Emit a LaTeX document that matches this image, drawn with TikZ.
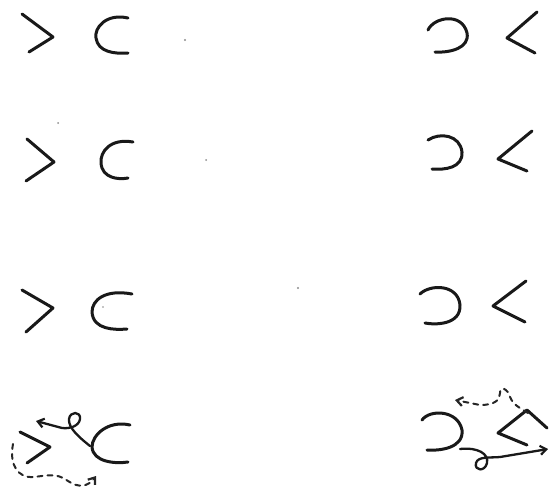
\documentclass[tikz,border=0pt]{standalone}
\usetikzlibrary{arrows.meta}
\begin{document}
\begin{tikzpicture}[x=1pt,y=-1pt,
  stroke/.style={line width=3pt,line cap=round,line join=round,black!90},
  thinstroke/.style={line width=2.3pt,line cap=round,line join=round,black!90},
  dashstroke/.style={line width=2pt,line cap=round,black!85,dash pattern=on 5pt off 5pt},
  tip/.style={-{Straight Barb[length=6pt,width=9pt,line width=2.2pt]}},
  speck/.style={fill=black!45,draw=none}]
\useasboundingbox (0,0) rectangle (557,495);
% row 1
\draw[stroke] (22,14) -- (53,37) -- (29,52);
\draw[stroke] (128,18) .. controls (106,13) and (94,28) .. (96,38) .. controls (98,52) and (114,54) .. (128,53);
\draw[stroke] (428,30) .. controls (434,17) and (462,12) .. (467,33) .. controls (470,48) and (450,53) .. (435,52);
\draw[stroke] (537,12) -- (507,38) -- (535,53);
% row 2
\draw[stroke] (27,139) -- (54,162) -- (26,181);
\draw[stroke] (133,142) .. controls (110,138) and (100,152) .. (101,163) .. controls (102,178) and (118,180) .. (128,178);
\draw[stroke] (428,140) .. controls (440,132) and (460,135) .. (462,152) .. controls (463,168) and (445,170) .. (432,169);
\draw[stroke] (532,131) -- (498,159) -- (527,171);
% row 3
\draw[stroke] (22,290) -- (53,308) -- (26,332);
\draw[stroke] (132,294) .. controls (105,289) and (92,300) .. (92,312) .. controls (93,330) and (115,330) .. (127,329);
\draw[stroke] (420,294) .. controls (430,284) and (458,284) .. (460,305) .. controls (461,325) and (435,325) .. (425,323);
\draw[stroke] (526,281) -- (493,306) -- (525,322);
% row 4 left
\draw[stroke] (20,432) -- (50,447) -- (27,463);
\draw[stroke] (130,425) .. controls (108,420) and (92,435) .. (92,447) .. controls (93,462) and (115,464) .. (128,462);
\draw[thinstroke,tip] (90,446) .. controls (80,438) and (68,428) .. (69,419) .. controls (70,411) and (81,411) .. (80,419) .. controls (79,426) and (70,429) .. (62,428) -- (36,421);
\draw[dashstroke,tip] (13,444) .. controls (9,465) and (18,478) .. (33,477) .. controls (46,476) and (56,472) .. (68,481) .. controls (78,488) and (88,487) .. (96,476);
% row 4 right
\draw[stroke] (422,420) .. controls (430,409) and (458,410) .. (462,430) .. controls (464,448) and (440,451) .. (427,450);
\draw[stroke] (547,428) -- (527,410) -- (498,433) -- (527,445);
\draw[thinstroke,tip] (460,449) .. controls (478,447) and (489,454) .. (487,463) .. controls (485,472) and (474,471) .. (476,463) .. controls (478,456) and (490,458) .. (500,457) -- (548,449);
\draw[dashstroke,tip] (528,413) .. controls (520,408) and (512,404) .. (510,397) .. controls (508,389) and (500,385) .. (500,393) .. controls (500,400) and (495,405) .. (480,405) -- (455,400);
% specks
\fill[speck] (185,40) circle (1.2pt);
\fill[speck] (206,160) circle (1pt);
\fill[speck] (298,288) circle (1.2pt);
\fill[speck] (58,123) circle (1pt);
\fill[speck] (103,307) circle (0.8pt);
\end{tikzpicture}
\end{document}
